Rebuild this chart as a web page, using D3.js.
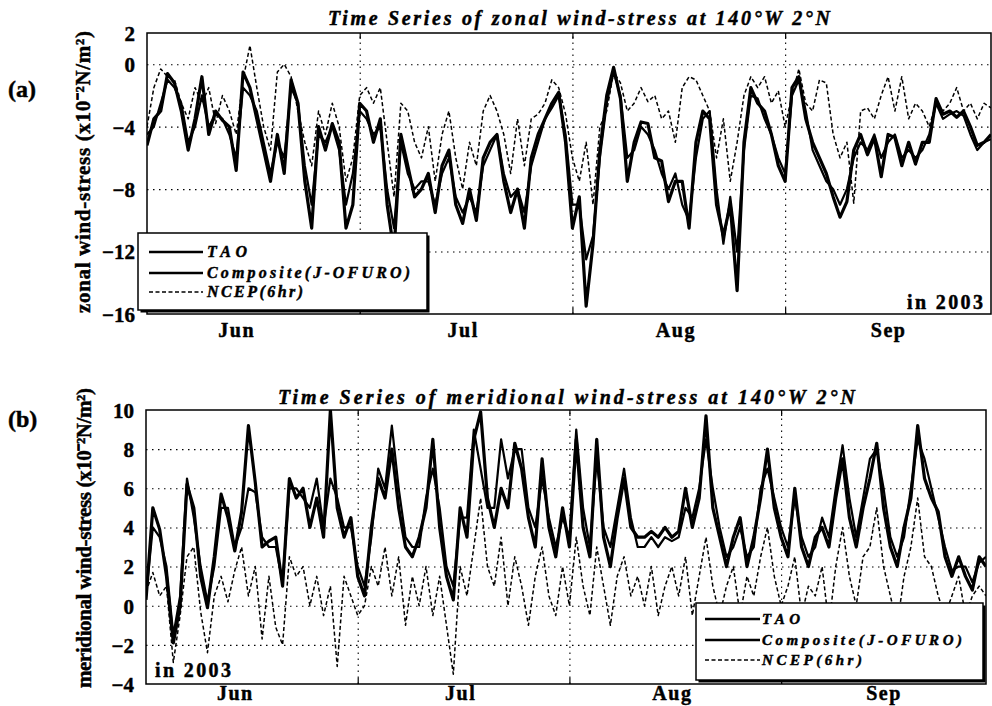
<!DOCTYPE html>
<html><head><meta charset="utf-8">
<script src="https://cdn.jsdelivr.net/npm/d3@7"></script>
<style>body{margin:0;background:#fff} text{stroke:#000;stroke-width:0.45px;}</style>
</head><body>
<svg id="chart" width="992" height="706"></svg>
<script>
const startDate = "2003-05-31";
const endDate = "2003-10-01";

const zonalTAO = [
-5.2,-3.5,-3,-0.6,-1.2,-3,-5.5,-3.5,-0.8,-4.5,
-3,-3.6,-4,-6.8,-0.5,-1.5,-3.5,-5.5,-7.5,-4.5,
-7,-1,-2.5,-7.5,-10.5,-4,-5.5,-3.8,-5,-10.5,
-9,-2.5,-3,-5,-3.5,-9,-12,-4.5,-6.5,-8.5,
-8,-7,-9.5,-6.5,-5.5,-9,-10.2,-8,-10,-6,
-5,-4.5,-7.5,-9.5,-8,-10.5,-6,-4.5,-3.5,-2.5,
-1.8,-5,-10.5,-8.5,-15.5,-11.5,-5.5,-2,-0.2,-2.2,
-7.5,-5,-3.7,-3.8,-6,-6.2,-8.8,-7.5,-7.5,-10.5,
-5,-3,-3.5,-9,-11,-9,-14.5,-5,-1.5,-2.5,
-3,-4.5,-6.5,-7.5,-1.5,-0.8,-3.5,-5,-6,-7,
-8.5,-9.8,-8.8,-5.5,-4.5,-5.8,-4.7,-7.2,-4.5,-4.7,
-6.5,-5,-6.4,-5,-5,-2.2,-3.2,-3,-3.4,-3,
-4,-5.2,-5,-4.5];
const zonalComp = [
-4.5,-4,-2.5,-1,-1.5,-2.5,-5,-4,-2,-4,
-3.2,-3.5,-4.5,-6,-1.5,-2,-3,-5,-7,-5,
-6,-1.5,-2.5,-6.5,-9,-4.5,-5,-4,-5.5,-9,
-7,-3,-3.5,-4.5,-4,-8,-10.5,-5,-7,-8,
-7.5,-7.5,-9,-7,-6,-8.5,-9.5,-8.5,-9.5,-6.5,
-5.5,-4.5,-7,-8.5,-8,-9.5,-6.5,-5,-3.5,-2.8,
-2,-4.5,-9,-9,-12.5,-11,-6,-2.5,-0.5,-2,
-6,-5.5,-4,-4.5,-5.5,-7,-8,-7,-9,-10,
-6,-3.5,-3,-8,-11.5,-8.5,-12,-5.5,-2,-2.2,
-3.5,-4.5,-6,-7,-2,-1,-3,-5.5,-6.5,-7.5,
-8,-9,-8,-6,-5,-5.5,-4.5,-6,-5,-4.5,
-6,-5.5,-6,-5.5,-4.5,-2.5,-3.5,-3.2,-3,-3.3,
-4.5,-5.5,-5,-4.8];
const zonalNCEP = [
-4,-1.5,-0.3,-0.8,-1,-2.5,-3.5,-1.5,-2.5,-1.5,
-3.8,-2,-3,-4.5,-1,1.2,-1.5,-4,-5.5,-0.5,
0,-0.8,-3,-5,-6.5,-3,-4.5,-2.5,-4,-7.5,
-6,-2,-1.5,-2.5,-1.5,-5,-8.5,-2.5,-3,-5,
-6,-4,-7.5,-4.5,-3,-6,-8,-5,-6.5,-3,
-2,-3,-4.5,-7,-3.5,-6.5,-3.5,-3.2,-2.5,-1,
-1.5,-3.2,-6,-7.5,-5,-9,-4,-3,-0.5,-1.2,
-3,-2.5,-1.5,-2.4,-2,-3.5,-3,-5,-1.5,-0.8,
-1,-2,-3,-6,-3.5,-7.5,-5,-2,-0.8,-1.5,
-0.8,-2.5,-1.7,-4,-2,-0.3,-2.5,-3,-1,-1.2,
-4.5,-6,-5,-8.9,-3,-2.8,-3.5,-2,-0.8,-3,
-0.8,-3.5,-2.5,-3,-4,-2.5,-3,-2.5,-1.5,-3,
-2.5,-3.5,-2.5,-2.8];

const merTAO = [
0.3,5,3.9,1.5,-1.9,0,6.2,5,1.5,-0.1,
2.5,5.7,4.5,2.8,4.8,9.2,6.3,3,3.3,3.5,
1,6.5,5.5,6,4,5.5,3.5,10,5,3.5,
4.5,1.5,0.5,4,6.5,5.5,8,5,3,2.5,
3.5,5,8.5,4,1.5,0.3,5,3.5,8.5,9.9,
5.5,4,6,5,8.3,7,4.5,3,7.5,4,
2.5,5,3,8.5,4,2.5,8.5,3.5,2,4.5,
6.5,4,3.5,3.5,3.8,3.5,4,3.5,3.8,6,
4,5.5,9.7,5,3.5,2,3.5,4.5,2,3.5,
5.5,8,5,3.5,2.5,6,3,2,3.5,4,
3,5.5,7.5,4.5,3,5,6.5,8.3,5,3,
2,4,5.5,9.2,6.5,5.5,4.8,2.5,1.5,2.5,
1.5,0.8,2.5,2];
const merComp = [
0.5,4,3.5,2,-1.5,0.5,6.5,4.5,2,0.2,
2,5,5,3,4,6,5.8,3.5,3,3,
1.2,6,6,5.5,5,6.5,4,6.5,5.5,4,
4,2,1,3.5,7,6,9.2,6,3.5,3,
3,5.5,7,5,2,1,4.5,4.5,9,7,
5,5,8.5,6.5,8,8,5,4,6.5,4.5,
3,4.5,3.5,9,5,3,7.5,4,3,5,
7,4.5,3,3,3.5,3,3.5,3.3,3.5,5,
4.5,6,8.5,6,4,2.5,3,4,2.5,3,
6,7,5.5,4,3,5.5,3.5,2.5,3,4.5,
3.5,6,8.2,5.5,3.5,5.5,7.5,8,6,3.5,
2.5,3.5,6,8.5,7.5,6,4.5,3,1.8,2,
2,1.2,2.2,2.5];
const merNCEP = [
0.7,1.7,0.5,1,-2.9,-0.5,2.5,3,-0.3,-2.4,
0.5,1.5,0.2,1.8,3,0.5,2,-1.7,1.5,-1.1,
-2,2.5,1.5,2,0,1.5,-0.5,1,-3.1,1.5,
0.5,-0.5,0,2,1,3,0.5,2.5,-1,1.5,
0,2,-0.5,1.5,-1,-3.5,2,0.5,3,5.5,
2,1,3.5,0,2.5,1,-1,1.5,3,0.5,
-0.5,2,0,3.5,1,-0.5,3,1,-1,1.5,
2.5,0.5,1.5,0,2,-0.5,1,2,0.5,2.5,
-0.5,1.5,3.5,1,-0.5,1,2,-0.5,1.5,0.5,
2.5,4,1.5,0,1,2.5,-0.5,1,0.5,2,
-1,2,4,1.5,0,2.5,3,5,2,0.5,
-1,1.5,3,5.5,2.5,2,0.5,-0.5,0.5,1.5,
-0.5,0.5,1,0.5];

const zonalTicks = [2, 0, -4, -8, -12, -16];
const merTicks = [10, 8, 6, 4, 2, 0, -2, -4];
const monthNames = ["Jun", "Jul", "Aug", "Sep"];
const monthLabelDates = ["2003-06-13", "2003-07-16", "2003-08-16", "2003-09-16"];
const monthStarts = ["2003-07-01", "2003-08-01", "2003-09-01"];
const seriesNames = ["TAO", "Composite(J-OFURO)", "NCEP(6hr)"];

const parse = d3.utcParse("%Y-%m-%d");
const t0 = parse(startDate), t1 = parse(endDate);
const svg = d3.select("#chart");
const FONT = "'Liberation Serif','Times New Roman',serif";

const styles = [
  {w: 3.2, dash: null},
  {w: 2.2, dash: null},
  {w: 1.5, dash: "4,2.5"}
];

function panel(cfg) {
  const x = d3.scaleUtc().domain([t0, t1]).range([cfg.left, cfg.right]);
  const y = d3.scaleLinear().domain(cfg.domain).range([cfg.bottom, cfg.top]);
  const g = svg.append("g");
  const clipId = "clip" + cfg.id;
  svg.append("clipPath").attr("id", clipId).append("rect")
    .attr("x", cfg.left).attr("y", cfg.top)
    .attr("width", cfg.right - cfg.left).attr("height", cfg.bottom - cfg.top);

  g.append("g").attr("transform", `translate(${cfg.left},0)`)
    .call(d3.axisLeft(y).tickValues(cfg.ticks.filter(v => v !== cfg.domain[0] && v !== cfg.domain[1]))
      .tickSize(-(cfg.right - cfg.left)).tickFormat(""))
    .call(a => a.select(".domain").remove())
    .call(a => a.selectAll("line").attr("stroke", "#000").attr("stroke-width", 1.1).attr("stroke-dasharray", "1.5,4.5"));
  g.append("g").attr("transform", `translate(0,${cfg.bottom})`)
    .call(d3.axisBottom(x).tickValues(monthStarts.map(parse))
      .tickSize(-(cfg.bottom - cfg.top)).tickFormat(""))
    .call(a => a.select(".domain").remove())
    .call(a => a.selectAll("line").attr("stroke", "#000").attr("stroke-width", 1.1).attr("stroke-dasharray", "1.5,4.5"));

  const order = [2, 1, 0];
  order.forEach(k => {
    const vals = cfg.series[k];
    const line = d3.line().x((v, i) => x(d3.utcDay.offset(t0, i))).y(v => y(v));
    g.append("path").datum(vals)
      .attr("clip-path", `url(#${clipId})`)
      .attr("d", line).attr("fill", "none").attr("stroke", "#000")
      .attr("stroke-width", styles[k].w)
      .attr("stroke-linejoin", "round")
      .attr("stroke-dasharray", styles[k].dash);
  });

  g.append("rect").attr("x", cfg.left).attr("y", cfg.top)
    .attr("width", cfg.right - cfg.left).attr("height", cfg.bottom - cfg.top)
    .attr("fill", "none").attr("stroke", "#000").attr("stroke-width", 1.5);

  g.append("g").attr("transform", `translate(0,${cfg.bottom})`)
    .call(d3.axisBottom(x).tickValues(monthStarts.map(parse)).tickSize(-6).tickFormat(""))
    .call(a => a.select(".domain").remove())
    .call(a => a.selectAll("line").attr("stroke", "#000").attr("stroke-width", 1.2));
  g.append("g").attr("transform", `translate(0,${cfg.top})`)
    .call(d3.axisTop(x).tickValues(monthStarts.map(parse)).tickSize(-6).tickFormat(""))
    .call(a => a.select(".domain").remove())
    .call(a => a.selectAll("line").attr("stroke", "#000").attr("stroke-width", 1.2));

  g.append("g").attr("transform", `translate(${cfg.left},0)`)
    .call(d3.axisLeft(y).tickValues(cfg.ticks).tickSize(0).tickPadding(12).tickFormat(d3.format("d")))
    .call(a => a.select(".domain").remove())
    .call(a => a.selectAll("text").attr("font-family", FONT).attr("font-weight", "bold")
      .attr("font-size", 21).attr("fill", "#000").attr("dy", "0.35em"));

  g.append("g").attr("transform", `translate(0,${cfg.bottom})`)
    .call(d3.axisBottom(x).tickValues(monthLabelDates.map(parse)).tickSize(0).tickPadding(0)
      .tickFormat((d, i) => monthNames[i]))
    .call(a => a.select(".domain").remove())
    .call(a => a.selectAll("text").attr("font-family", FONT).attr("font-weight", "bold")
      .attr("font-size", 20).attr("letter-spacing", 1.5).attr("fill", "#000")
      .attr("y", cfg.monthBaseline - cfg.bottom).attr("dy", 0));

  g.append("text").attr("x", cfg.titleX).attr("y", cfg.titleY)
    .attr("font-family", FONT).attr("font-weight", "bold").attr("font-style", "italic")
    .attr("font-size", 20).attr("textLength", cfg.titleLen).attr("lengthAdjust", "spacing")
    .text(cfg.title);

  g.append("text").attr("transform", `translate(${cfg.ylabX},${cfg.ylabY}) rotate(-90)`)
    .attr("text-anchor", "middle")
    .attr("font-family", FONT).attr("font-weight", "bold").attr("font-size", 21)
    .attr("textLength", cfg.ylabLen).attr("lengthAdjust", "spacing")
    .text(cfg.ylab);

  g.append("text").attr("x", 8).attr("y", cfg.letterY)
    .attr("font-family", FONT).attr("font-weight", "bold").attr("font-size", 24)
    .text(cfg.letter);

  g.append("text").attr("x", cfg.yearX).attr("y", cfg.yearY)
    .attr("font-family", FONT).attr("font-weight", "bold").attr("font-size", 20)
    .attr("textLength", 76).attr("lengthAdjust", "spacing")
    .text("in 2003");

  const L = cfg.legend;
  const lg = g.append("g");
  lg.append("rect").attr("x", L.x + 2.5).attr("y", L.y + 2.5).attr("width", L.w).attr("height", L.h)
    .attr("fill", "#000");
  lg.append("rect").attr("x", L.x).attr("y", L.y).attr("width", L.w).attr("height", L.h)
    .attr("fill", "#fff").attr("stroke", "#000").attr("stroke-width", 1.5);
  seriesNames.forEach((name, k) => {
    const yy = L.y + L.rows[k];
    lg.append("line").attr("x1", L.lx1).attr("x2", L.lx2).attr("y1", yy - 5).attr("y2", yy - 5)
      .attr("stroke", "#000").attr("stroke-width", k === 2 ? 1.4 : 2.4)
      .attr("stroke-dasharray", styles[k].dash);
    lg.append("text").attr("x", L.tx).attr("y", yy)
      .attr("font-family", FONT).attr("font-weight", "bold").attr("font-style", "italic")
      .attr("font-size", L.fs).attr("textLength", L.lens[k]).attr("lengthAdjust", "spacing")
      .text(name);
  });
}

panel({
  id: "a", left: 147, right: 991, top: 33, bottom: 314,
  domain: [-16, 2], ticks: zonalTicks,
  series: [zonalTAO, zonalComp, zonalNCEP],
  monthBaseline: 337,
  title: "Time Series of zonal wind-stress at 140°W 2°N",
  titleX: 328, titleY: 25, titleLen: 502,
  ylab: "zonal wind-stress (x10⁻²N/m²)", ylabX: 90, ylabY: 172, ylabLen: 282,
  letter: "(a)", letterY: 97,
  yearX: 907, yearY: 309,
  legend: {x: 138, y: 233, w: 289, h: 77, rows: [24, 45, 64],
    lx1: 149, lx2: 203, tx: 207, fs: 16, lens: [40, 203, 96]}
});

panel({
  id: "b", left: 146, right: 986, top: 410, bottom: 684,
  domain: [-4, 10], ticks: merTicks,
  series: [merTAO, merComp, merNCEP],
  monthBaseline: 700,
  title: "Time Series of meridional wind-stress at 140°W 2°N",
  titleX: 278, titleY: 404, titleLen: 577,
  ylab: "meridional wind-stress (x10⁻²N/m²)", ylabX: 91, ylabY: 538, ylabLen: 300,
  letter: "(b)", letterY: 427,
  yearX: 155, yearY: 677,
  legend: {x: 696, y: 603, w: 287, h: 77, rows: [21, 42, 62],
    lx1: 705, lx2: 760, tx: 762, fs: 15, lens: [38, 200, 100]}
});
</script>
</body></html>
